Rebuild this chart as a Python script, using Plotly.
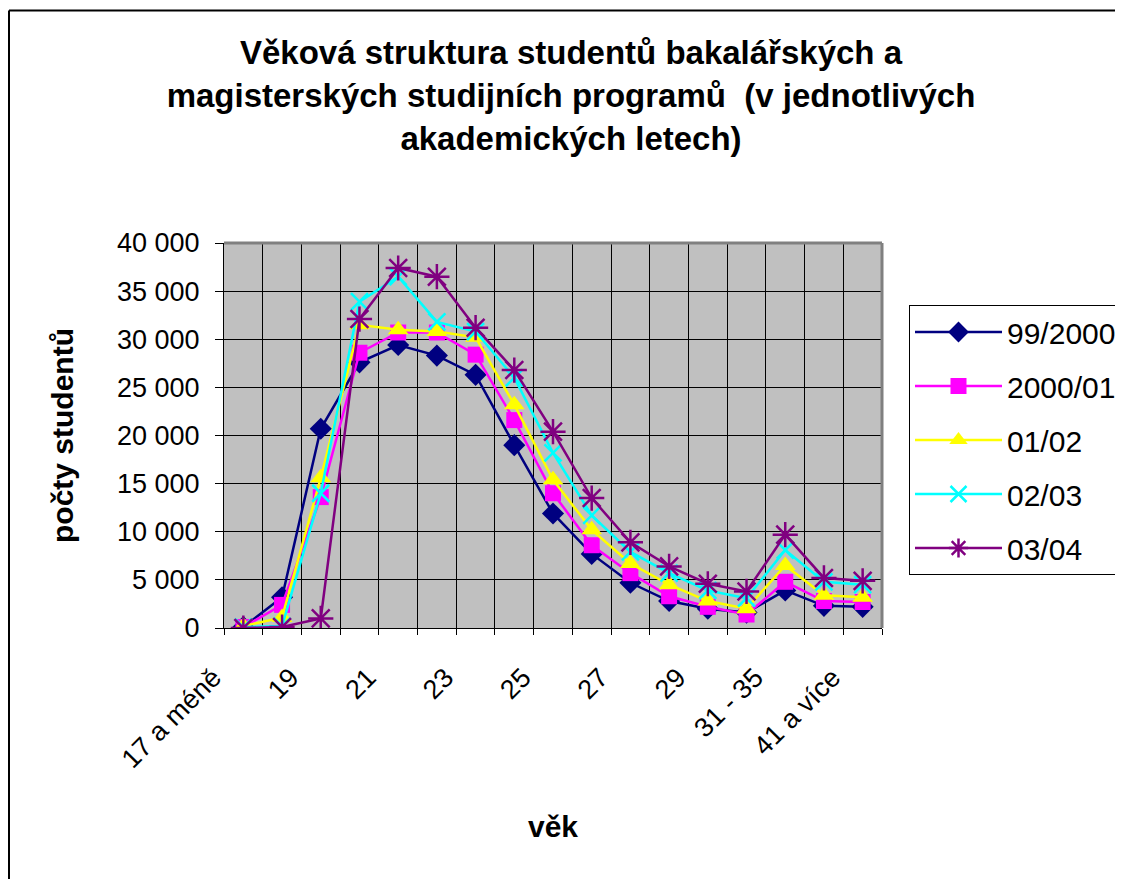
import plotly.graph_objects as go

categories = ["17 a méně", "18", "19", "20", "21", "22", "23", "24", "25", "26",
              "27", "28", "29", "30", "31 - 35", "36 - 40", "41 a více"]
series_names = ["99/2000", "2000/01", "01/02", "02/03", "03/04"]
y_99_2000 = [100, 3200, 20700, 27600, 29400, 28300, 26300, 19000, 11900, 7700, 4700, 2800, 2000, 1600, 3900, 2300, 2200]
y_2000_01 = [100, 2400, 13600, 28600, 30700, 30700, 28400, 21600, 14000, 8600, 5700, 3300, 2200, 1400, 4800, 2800, 2700]
y_01_02 = [200, 1100, 15600, 31500, 31000, 30800, 30200, 23200, 15400, 10200, 6700, 4500, 2800, 2000, 6500, 3400, 3200]
y_02_03 = [100, 200, 14000, 33900, 36500, 31800, 30800, 26000, 18200, 11700, 7900, 5700, 3900, 3100, 8100, 4800, 4500]
y_03_04 = [0, 100, 1000, 32100, 37400, 36500, 31200, 26800, 20400, 13500, 8900, 6400, 4600, 3800, 9700, 5200, 4900]

values = [y_99_2000, y_2000_01, y_01_02, y_02_03, y_03_04]
colors = ["#000080", "#FF00FF", "#FFFF00", "#00FFFF", "#800080"]
symbols = ["diamond", "square", "triangle-up", "x-thin-open", "asterisk-open"]
msizes = [17, 16, 18, 17, 21]

FONT = "Liberation Sans, Arial, sans-serif"
OFF = 8  # page body margin in the browser
W, H = 1123 - OFF, 879 - OFF
L = 224 - OFF
T = 243 - OFF
R = W - (882 - OFF)
B = H - (628 - OFF)
pw, ph = W - L - R, H - T - B

x_idx = list(range(len(categories)))

fig = go.Figure()
for i, (name, ys) in enumerate(zip(series_names, values)):
    marker = dict(symbol=symbols[i], size=msizes[i], color=colors[i])
    if "open" in symbols[i]:
        marker["line"] = dict(color=colors[i], width=2.5)
    else:
        marker["line"] = dict(width=0)
    fig.add_trace(go.Scatter(
        x=x_idx, y=ys, name=name, mode="lines+markers",
        line=dict(color=colors[i], width=2.5),
        marker=marker, legendgroup=name,
    ))

fig.update_layout(
    width=W, height=H,
    margin=dict(l=L, r=R, t=T, b=B, pad=0, autoexpand=False),
    paper_bgcolor="white",
    plot_bgcolor="#C0C0C0",
    separators=", ",
    font=dict(family=FONT, size=24, color="black"),
    title=dict(
        text="Věková struktura studentů bakalářských a<br>magisterských studijních programů  (v jednotlivých<br>akademických letech)",
        x=(571 - OFF) / W, xref="container", xanchor="center",
        y=1 - (64 - OFF) / H, yref="container", yanchor="middle",
        font=dict(family=FONT, size=33, color="black", weight="bold"),
    ),
    legend=dict(
        x=(909 - OFF - L) / pw, xanchor="left",
        y=(H - B - (305 - OFF)) / ph, yanchor="top",
        bordercolor="black", borderwidth=1, bgcolor="white",
        font=dict(family=FONT, size=30, color="black"),
        itemwidth=87, tracegroupgap=12, traceorder="grouped",
    ),
    showlegend=True,
)

fig.update_xaxes(
    range=[-0.5, len(categories) - 0.5],
    tickvals=x_idx[::2], ticktext=categories[::2],
    tickangle=-45, ticks="", showgrid=False, zeroline=False,
    showline=True, linecolor="black", linewidth=1,
    tickfont=dict(family=FONT, size=27, color="black"),
    ticklabelstandoff=22, ticklabelshift=-30,
    minor=dict(tick0=0.5, dtick=1, showgrid=True, gridcolor="black", gridwidth=1,
               ticks="outside", ticklen=6, tickcolor="black"),
    title=dict(text="věk", font=dict(family=FONT, size=30, color="black", weight="bold"), standoff=43),
)
fig.update_yaxes(
    range=[0, 40000], dtick=5000, tickformat=",d",
    ticks="outside", ticklen=8, tickcolor="black",
    showgrid=True, gridcolor="black", gridwidth=1, zeroline=False,
    showline=True, linecolor="black", linewidth=1,
    tickfont=dict(family=FONT, size=27, color="black"),
    ticklabelstandoff=10,
    title=dict(text="počty studentů", font=dict(family=FONT, size=30, color="black", weight="bold"), standoff=34),
)

# plot area border (top/right in gray), outer chart border (top/left)
fig.add_shape(type="line", xref="paper", yref="paper", x0=0, x1=1, y0=1, y1=1,
              line=dict(color="#808080", width=3), layer="above")
fig.add_shape(type="line", xref="paper", yref="paper", x0=1, x1=1, y0=0, y1=1,
              line=dict(color="#808080", width=3), layer="above")
top_y = (H - B - (10.5 - OFF)) / ph
left_x = (1 - L) / pw
fig.add_shape(type="line", xref="paper", yref="paper",
              x0=left_x, x1=(W - L) / pw, y0=top_y, y1=top_y,
              line=dict(color="black", width=2), layer="above")
fig.add_shape(type="line", xref="paper", yref="paper",
              x0=left_x, x1=left_x, y0=top_y, y1=-B / ph,
              line=dict(color="black", width=2), layer="above")

fig.write_html("out.html")
